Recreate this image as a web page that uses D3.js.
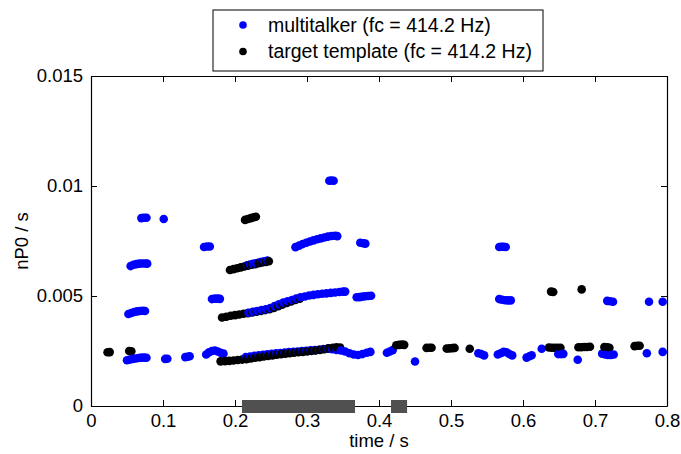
<!DOCTYPE html>
<html>
<head>
<meta charset="utf-8">
<script src="https://cdn.jsdelivr.net/npm/d3@7"></script>
<style>
  body { margin: 0; background: #fff; }
  text { font-family: "Liberation Sans", Arial, sans-serif; }
</style>
</head>
<body>
<script>
// pitch track points [time in s, nP0 in s]
var multitalker = [
  [0.070,0.00854],[0.0735,0.00856],[0.077,0.00856],[0.101,0.0085],
  [0.055,0.00636],[0.059,0.00642],[0.063,0.00645],[0.067,0.00647],[0.071,0.00648],[0.075,0.00648],[0.078,0.00647],
  [0.052,0.00418],[0.056,0.00423],[0.060,0.00427],[0.064,0.0043],[0.068,0.00432],[0.072,0.00433],[0.075,0.00432],
  [0.050,0.00208],[0.054,0.00211],[0.058,0.00214],[0.062,0.00216],[0.066,0.00218],[0.070,0.0022],[0.074,0.0022],[0.077,0.00219],
  [0.103,0.00214],[0.106,0.00215],
  [0.131,0.00222],[0.134,0.00224],[0.137,0.00226],
  [0.160,0.00234],[0.164,0.00244],[0.168,0.0025],[0.172,0.00252],[0.176,0.00248],[0.180,0.00242],[0.184,0.00238],
  [0.157,0.00723],[0.161,0.00725],[0.165,0.00725],
  [0.168,0.00486],[0.172,0.00488],[0.176,0.00488],[0.179,0.00487],
  [0.217,0.0064],[0.221,0.00643],[0.225,0.00646],[0.229,0.00649],[0.233,0.00652],[0.237,0.00655],[0.241,0.00658],[0.245,0.00661],
  [0.219,0.00424],[0.225,0.00428],[0.231,0.00432],[0.237,0.00436],[0.243,0.0044],[0.249,0.00445],[0.255,0.00454],[0.261,0.00462],
  [0.267,0.0047],[0.273,0.00476],[0.279,0.00482],[0.285,0.00488],[0.291,0.00494],[0.297,0.00498],[0.303,0.00502],[0.309,0.00505],
  [0.315,0.00508],[0.321,0.0051],[0.327,0.00512],[0.333,0.00514],[0.339,0.00516],[0.345,0.00518],[0.350,0.0052],[0.353,0.0052],
  [0.369,0.00494],[0.373,0.00495],[0.377,0.00497],[0.381,0.00499],[0.385,0.005],[0.389,0.00501],
  [0.284,0.00722],[0.289,0.00729],[0.294,0.00736],[0.299,0.00742],[0.304,0.00748],[0.309,0.00753],[0.314,0.00758],[0.319,0.00762],
  [0.324,0.00766],[0.329,0.0077],[0.334,0.00773],[0.339,0.00774],[0.342,0.00772],
  [0.331,0.01024],[0.334,0.01025],[0.337,0.01024],
  [0.374,0.00742],[0.378,0.0074],[0.381,0.00738],
  [0.215,0.00222],[0.221,0.00225],[0.227,0.00228],[0.233,0.0023],[0.239,0.00233],[0.245,0.00235],[0.251,0.00237],[0.257,0.00239],
  [0.263,0.00241],[0.269,0.00243],[0.275,0.00245],[0.281,0.00246],[0.287,0.00248],[0.293,0.0025],[0.299,0.00251],[0.305,0.00253],
  [0.311,0.00254],[0.317,0.00256],[0.323,0.00259],[0.329,0.00261],[0.335,0.00258],[0.341,0.00255],[0.347,0.00252],[0.353,0.00248],
  [0.359,0.0024],[0.365,0.00234],[0.371,0.00232],[0.377,0.00236],[0.383,0.00242],[0.388,0.00246],
  [0.411,0.00242],[0.415,0.00248],[0.419,0.00254],
  [0.450,0.00202],
  [0.538,0.0024],[0.542,0.00236],[0.546,0.0023],
  [0.565,0.00234],[0.569,0.0024],[0.573,0.00246],[0.577,0.00244],[0.581,0.00236],[0.585,0.0023],
  [0.605,0.0022],[0.609,0.00226],[0.612,0.00231],
  [0.626,0.0026],
  [0.649,0.00236],[0.653,0.00236],[0.656,0.00237],
  [0.676,0.0021],
  [0.710,0.00238],[0.714,0.00234],[0.718,0.00232],[0.722,0.00232],[0.726,0.00234],
  [0.772,0.0024],
  [0.794,0.00246],
  [0.567,0.00723],[0.570,0.00724],[0.573,0.00724],[0.576,0.00723],
  [0.567,0.00486],[0.571,0.00483],[0.575,0.00481],[0.579,0.0048],[0.583,0.0048],
  [0.717,0.00478],[0.721,0.00476],[0.725,0.00474],
  [0.775,0.00474],
  [0.794,0.00474]
];

var target = [
  [0.023,0.00244],[0.026,0.00245],
  [0.053,0.0025],[0.056,0.00249],
  [0.214,0.00846],[0.218,0.0085],[0.222,0.00854],[0.226,0.00858],[0.229,0.0086],
  [0.193,0.00618],[0.198,0.00622],[0.203,0.00626],[0.208,0.0063],[0.213,0.00634],[0.218,0.00638],[0.223,0.00642],[0.228,0.00645],
  [0.233,0.00649],[0.238,0.00652],[0.243,0.00655],[0.247,0.00658],
  [0.182,0.00402],[0.188,0.00406],[0.194,0.0041],[0.200,0.00413],[0.206,0.00416],[0.212,0.00419],[0.218,0.00422],[0.224,0.00425],
  [0.230,0.00429],[0.236,0.00432],[0.242,0.00436],[0.248,0.0044],[0.254,0.00446],[0.260,0.00454],[0.266,0.00461],[0.272,0.00468],
  [0.278,0.00475],[0.284,0.00482],[0.290,0.00488],
  [0.180,0.00203],[0.186,0.00204],[0.192,0.00205],[0.198,0.00207],[0.204,0.00209],[0.210,0.00211],[0.216,0.00213],[0.222,0.00216],
  [0.228,0.00219],[0.234,0.00222],[0.240,0.00225],[0.246,0.00228],[0.252,0.0023],[0.258,0.00233],[0.264,0.00235],[0.270,0.00238],
  [0.276,0.0024],[0.282,0.00242],[0.288,0.00244],[0.294,0.00246],[0.300,0.00248],[0.306,0.0025],[0.312,0.00252],[0.318,0.00255],
  [0.324,0.00258],[0.330,0.00262],[0.336,0.00265],[0.341,0.00267],[0.346,0.00266],
  [0.424,0.00276],[0.428,0.00278],[0.432,0.00279],[0.435,0.00278],
  [0.466,0.00264],[0.470,0.00265],[0.473,0.00265],
  [0.494,0.00261],[0.498,0.00262],[0.502,0.00263],[0.505,0.00264],
  [0.526,0.0026],
  [0.636,0.00266],[0.640,0.00265],[0.644,0.00265],[0.648,0.00264],[0.652,0.00265],
  [0.677,0.00267],[0.681,0.00267],[0.685,0.00268],[0.689,0.00268],[0.693,0.00269],
  [0.713,0.00268],[0.717,0.00267],[0.720,0.00265],
  [0.755,0.00272],[0.759,0.00274],[0.762,0.00274],
  [0.639,0.0052],[0.642,0.00518],
  [0.6815,0.0053]
];

// gray intervals along the time axis [start, end] in s
var target_spans = [[0.2097, 0.3667], [0.4167, 0.439]];

var x_ticks = [0, 0.1, 0.2, 0.3, 0.4, 0.5, 0.6, 0.7, 0.8];
var y_ticks = [0, 0.005, 0.01, 0.015];
var legend_labels = ["multitalker (fc = 414.2 Hz)", "target template (fc = 414.2 Hz)"];
var colors = ["#0000ff", "#000000"];

var width = 681, height = 454;
var ax_left = 91, ax_right = 667, ax_top = 76, ax_bottom = 406;
var r = 4.3;

var svg = d3.select("body").append("svg")
    .attr("width", width)
    .attr("height", height);

var x = d3.scaleLinear().domain([0, 0.8]).range([ax_left, ax_right]);
var y = d3.scaleLinear().domain([0, 0.015]).range([ax_bottom, ax_top]);

var fmt = function(d){ return d === 0 ? "0" : String(+d.toFixed(4)); };

// points drawn in time order so overlapping tracks mix like the original
var all_points = [];
multitalker.forEach(function(p){ all_points.push({t: p[0], v: p[1], s: 0}); });
target.forEach(function(p){ all_points.push({t: p[0], v: p[1], s: 1}); });
all_points.sort(function(a, b){ return a.t - b.t || a.s - b.s; });

svg.append("g").selectAll("circle")
    .data(all_points).enter().append("circle")
    .attr("cx", function(d){ return x(d.t); })
    .attr("cy", function(d){ return y(d.v); })
    .attr("r", r)
    .attr("fill", function(d){ return colors[d.s]; });

// axes (ticks pointing inwards, box on)
var ax_b = svg.append("g").attr("transform", "translate(0," + ax_bottom + ")")
    .call(d3.axisBottom(x).tickValues(x_ticks).tickFormat(fmt).tickSizeInner(-6).tickSizeOuter(0).tickPadding(8));
var ax_t = svg.append("g").attr("transform", "translate(0," + ax_top + ")")
    .call(d3.axisTop(x).tickValues(x_ticks).tickFormat("").tickSizeInner(-6).tickSizeOuter(0));
var ax_l = svg.append("g").attr("transform", "translate(" + ax_left + ",0)")
    .call(d3.axisLeft(y).tickValues(y_ticks).tickFormat(fmt).tickSizeInner(-6).tickSizeOuter(0).tickPadding(8));
var ax_r = svg.append("g").attr("transform", "translate(" + ax_right + ",0)")
    .call(d3.axisRight(y).tickValues(y_ticks).tickFormat("").tickSizeInner(-6).tickSizeOuter(0));

[ax_b, ax_t, ax_l, ax_r].forEach(function(a){
    a.select(".domain").attr("stroke", "#000").attr("stroke-width", 1.2);
    a.selectAll(".tick line").attr("stroke", "#000").attr("stroke-width", 1);
    a.selectAll("text").attr("font-size", 18.5).attr("fill", "#000")
        .attr("font-family", "'Liberation Sans', Arial, sans-serif");
});

// gray bars on the time axis
svg.append("g").selectAll("rect")
    .data(target_spans).enter().append("rect")
    .attr("x", function(d){ return x(d[0]); })
    .attr("width", function(d){ return x(d[1]) - x(d[0]); })
    .attr("y", ax_bottom - 6)
    .attr("height", 13)
    .attr("fill", "#505050");

svg.append("text")
    .attr("x", (ax_left + ax_right) / 2).attr("y", 447)
    .attr("text-anchor", "middle").attr("font-size", 18.5)
    .text("time / s");

svg.append("text")
    .attr("transform", "translate(28," + ((ax_top + ax_bottom) / 2) + ") rotate(-90)")
    .attr("text-anchor", "middle").attr("font-size", 18.5)
    .text("nP0 / s");

// legend
var lg = svg.append("g");
lg.append("rect")
    .attr("x", 213).attr("y", 10).attr("width", 330).attr("height", 61)
    .attr("fill", "#fff").attr("stroke", "#000").attr("stroke-width", 1);
var rows = lg.selectAll(".row").data(legend_labels).enter().append("g")
    .attr("transform", function(d, i){ return "translate(0," + (25 + i * 26.5) + ")"; });
rows.append("circle")
    .attr("cx", 243).attr("cy", 0).attr("r", 3.8)
    .attr("fill", function(d, i){ return colors[i]; });
rows.append("text")
    .attr("x", 268).attr("dy", "0.35em").attr("font-size", 19.5)
    .text(function(d){ return d; });
</script>
</body>
</html>
